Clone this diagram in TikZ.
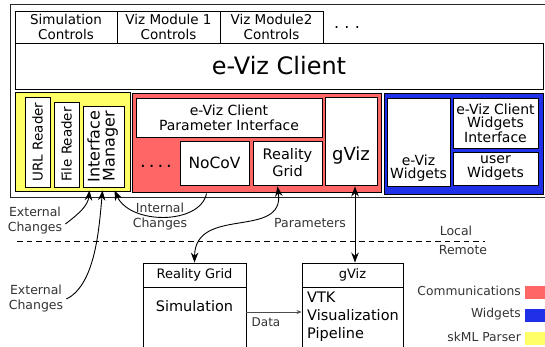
\documentclass[tikz,border=0pt]{standalone}
\usepackage{fontspec}
\setmainfont{DejaVu Sans}
\usetikzlibrary{arrows.meta,calc}
\definecolor{commred}{HTML}{FF6666}
\definecolor{widblue}{HTML}{2030E8}
\definecolor{parsyel}{HTML}{FFFF66}
\begin{document}
\begin{tikzpicture}[x=1pt,y=-1pt,
  box/.style={draw=black,line width=0.9pt,fill=white,inner sep=0pt,align=center},
  ctl/.style={font=\fontsize{13.5}{15}\selectfont},
  mid/.style={font=\fontsize{14}{15}\selectfont},
  lbl/.style={font=\fontsize{12.5}{15}\selectfont,text=black!80,align=center,inner sep=0pt},
  tip/.style={line width=0.9pt,-{Stealth[length=10pt,width=7.5pt]}},
  dtip/.style={line width=0.9pt,{Stealth[length=10pt,width=7.5pt]}-{Stealth[length=10pt,width=7.5pt]}},
  swatch/.style={draw=none,inner sep=0pt,minimum width=30,minimum height=13}
]
\useasboundingbox (0,0) rectangle (545,347);
\clip (0,0) rectangle (545,347);

% outer frame
\draw[line width=0.9pt,black!85] (10,4) rectangle (560,197);

% top controls
\node[box,ctl,minimum width=102,minimum height=32] (sc) at (66,27) {Simulation\\Controls};
\node[box,ctl,minimum width=103,minimum height=32] (vm1) at (168.5,27) {Viz Module 1\\Controls};
\node[box,ctl,minimum width=103,minimum height=32] (vm2) at (271.5,27) {Viz Module2\\Controls};
\node[font=\fontsize{16}{16}\selectfont,anchor=base] (tdots) at (347,29) {.\,\,.\,\,.};

% client
\node[box,minimum width=528,minimum height=46,font=\fontsize{24}{26}\selectfont] (client) at (279,66) {e-Viz Client};

% parser (yellow)
\node[box,fill=parsyel,minimum width=115,minimum height=99] (yel) at (72.5,141.5) {};
\node[box,ctl,minimum width=25,minimum height=90] (url) at (37.5,142) {\rotatebox{90}{URL Reader}};
\node[box,ctl,minimum width=25,minimum height=85] (file) at (66.5,144.5) {\rotatebox{90}{File Reader}};
\node[box,minimum width=41,minimum height=81] (im) at (103.5,146.5) {\rotatebox{90}{\fontsize{16}{17}\selectfont\begin{tabular}{@{}c@{}}Interface\\[-2pt]Manager\end{tabular}}};

% communications (red)
\node[box,fill=commred,minimum width=249,minimum height=99] (red) at (256.5,142.5) {};
\node[box,mid,minimum width=186,minimum height=39] (pi) at (229,117.5) {e-Viz Client\\Parameter Interface};
\node[font=\fontsize{18}{18}\selectfont,anchor=base] (rdots) at (156,168) {.\,.\,.\,.};
\node[box,minimum width=69,minimum height=44,font=\fontsize{15.5}{17}\selectfont] (nocov) at (214.5,163) {NoCoV};
\node[box,minimum width=69,minimum height=44,font=\fontsize{14.5}{17}\selectfont] (rg) at (287.5,163) {Reality\\Grid};
\node[box,minimum width=52,minimum height=88,
  label={[font=\fontsize{18}{18}\selectfont,yshift=-15pt]center:gViz}] (gviz) at (351,141) {};

% widgets (blue)
\node[box,fill=widblue,minimum width=159,minimum height=101] (blue) at (463.5,143.5) {};
\node[box,minimum width=63,minimum height=88,
  label={[align=center,yshift=-26pt,font=\fontsize{14}{13.5}\selectfont]center:e-Viz\\Widgets}] (ew) at (418.5,142) {};
\node[box,minimum width=85,minimum height=50,font=\fontsize{14}{13.5}\selectfont] (wi) at (495.5,123) {e-Viz Client\\Widgets\\Interface};
\node[box,minimum width=85,minimum height=33,font=\fontsize{14}{14}\selectfont] (uw) at (495.5,168.5) {user\\Widgets};

% local / remote separator
\coordinate (sepL) at (17,241);
\coordinate (sepR) at (485,241);
\draw[line width=0.8pt,dash pattern=on 5.5pt off 4pt] (sepL) -- (sepR);
\node[lbl] (local) at (456,231) {Local};
\node[lbl] (remote) at (463,250) {Remote};

% remote boxes
\node[box,minimum width=103,minimum height=24,font=\fontsize{13}{14}\selectfont] (rgt) at (194.5,275) {Reality Grid};
\node[box,minimum width=103,minimum height=80,anchor=north] (rgb) at (rgt.south) {};
\node[font=\fontsize{14.5}{18}\selectfont,anchor=base] (sim) at (194.5,311) {Simulation};
\node[box,minimum width=101,minimum height=24,font=\fontsize{13}{14}\selectfont] (gvt) at (352.5,275) {gViz};
\node[box,minimum width=101,minimum height=80,anchor=north] (gvb) at (gvt.south) {};
\node[font=\fontsize{14.5}{18}\selectfont,align=left,anchor=north west,inner sep=0pt] (vtk) at (307,292) {VTK\\Visualization\\Pipeline};

% data arrow
\draw[line width=0.7pt,black!70,-{Stealth[length=5pt,width=4pt]}] (rgb.east |- 0,312) coordinate (d1) -- (gvb.west |- d1);
\node[lbl,font=\fontsize{12}{12}\selectfont] (data) at (266,322) {Data};

% labels
\node[lbl] (ext1) at (35,221) {External\\Changes};
\node[lbl] (ext2) at (36,299) {External\\Changes};
\node[lbl] (intc) at (160,217) {Internal\\Changes};
\node[lbl] (param) at (310,223) {Parameters};

% connectors
\draw[tip] ($(ext1.east)+(3,3)$) .. controls (80,213) and (88,205) .. ($(im.south)+(-14,3)$);
\draw[tip] ($(ext2.east)+(3,0)$) .. controls (95,285) and (99,230) .. ($(im.south)+(-1,3)$);
\draw[tip] ($(red.south west)+(75,1)$) .. controls (200,225) and (130,225) .. ($(im.south)+(11,3)$);
\draw[dtip] ($(rg.south)+(-10,1)$) .. controls (285,240) and (195,205) .. (rgt.north);
\draw[dtip] ($(gviz.south)+(4,1)$) -- ($(gvt.north)+(2.5,0)$);

% legend
\node[lbl,anchor=east,font=\fontsize{12.3}{14}\selectfont] (lc) at (521,291) {Communications};
\node[lbl,anchor=east,font=\fontsize{12.3}{14}\selectfont] (lw) at (521,314) {Widgets};
\node[lbl,anchor=east,font=\fontsize{12.3}{14}\selectfont] (lp) at (521,337) {skML Parser};
\node[swatch,fill=commred,anchor=west] (sc1) at (525,292) {};
\node[swatch,fill=widblue,anchor=west] (sc2) at (525,315) {};
\node[swatch,fill=parsyel,anchor=west] (sc3) at (525,338) {};
\end{tikzpicture}
\end{document}
